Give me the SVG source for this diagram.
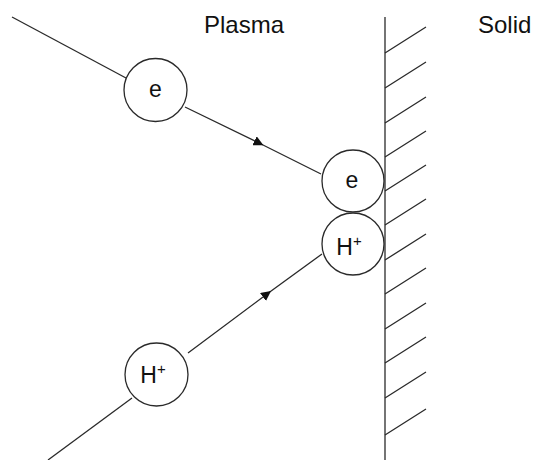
<svg xmlns="http://www.w3.org/2000/svg" width="533" height="460" viewBox="0 0 533 460">
<defs>
<style>
.ln{stroke:#2a2a2a;stroke-width:1.3;fill:none}
.c{stroke:#2a2a2a;stroke-width:1.3;fill:#fff}
.t{font-family:"Liberation Sans",Arial,sans-serif;fill:#111}
.lab{font-size:24px}
.node{font-size:23px;text-anchor:middle}
.sup{font-size:15px}
</style>
<marker id="ah" viewBox="0 0 10 10" refX="5" refY="5" markerWidth="10" markerHeight="10" markerUnits="userSpaceOnUse" orient="auto">
<path d="M0,0 L10,5 L0,10 Z" fill="#111"/>
</marker>
</defs>
<rect width="533" height="460" fill="#fff"/>
<g id="labels">
<text class="t lab" x="204" y="33">Plasma</text>
<text class="t lab" x="478" y="33">Solid</text>
</g>
<g id="wall">
<line class="ln" x1="385" y1="17" x2="385" y2="460"/>
<path class="ln" d="M385,53 L426,27 M385,88 L426,62 M385,123 L426,97 M385,157 L426,131 M385,191 L426,165 M385,225 L426,199 M385,260 L426,234 M385,294 L426,268 M385,329 L426,303 M385,363 L426,337 M385,398 L426,372 M385,435 L426,409"/>
</g>
<g id="connectors">
<line class="ln" x1="12" y1="17" x2="126" y2="78"/>
<path class="ln" d="M185,107 L259,143 L321,174" marker-mid="url(#ah)"/>
<line class="ln" x1="48" y1="460" x2="132" y2="398"/>
<path class="ln" d="M188,353 L267,294 L322,254" marker-mid="url(#ah)"/>
</g>
<g id="e1">
<circle class="c" cx="155.5" cy="90" r="31.5"/>
<text class="t node" x="155.5" y="97">e</text>
</g>
<g id="e2">
<circle class="c" cx="353" cy="181" r="31"/>
<text class="t node" x="352" y="188">e</text>
</g>
<g id="h2">
<circle class="c" cx="353" cy="244" r="31"/>
<text class="t node" x="349" y="255">H<tspan class="sup" dy="-9">+</tspan></text>
</g>
<g id="h1">
<circle class="c" cx="156.5" cy="374.5" r="31.5"/>
<text class="t node" x="153" y="383">H<tspan class="sup" dy="-9">+</tspan></text>
</g>
</svg>
